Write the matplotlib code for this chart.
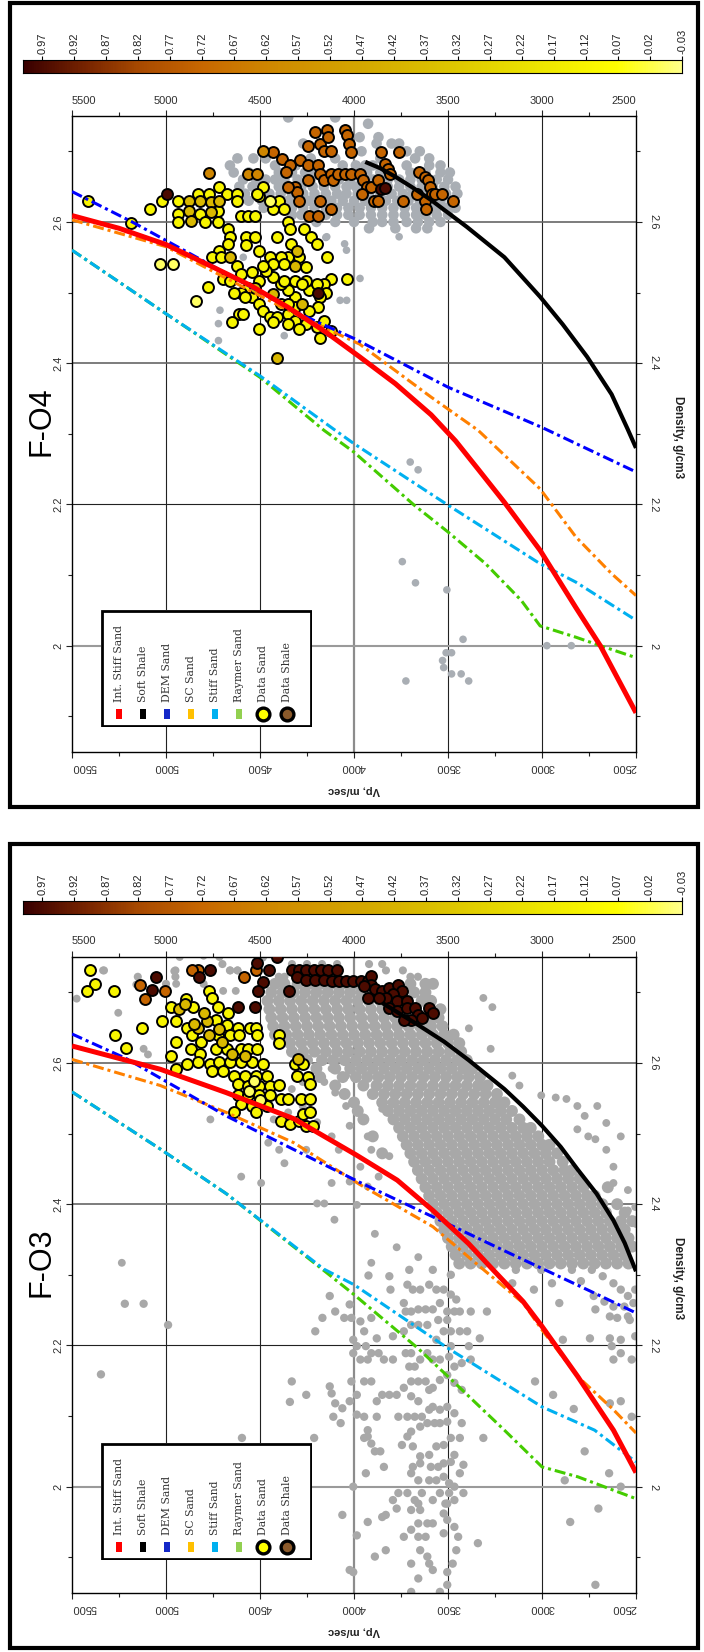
import numpy as np
import matplotlib
matplotlib.use("Agg")
import matplotlib.pyplot as plt
from matplotlib.colors import LinearSegmentedColormap, Normalize
from matplotlib.patches import Rectangle
import matplotlib.transforms as mtransforms

plt.rcParams['font.family'] = ['Liberation Sans', 'DejaVu Sans']

# ---------------------------------------------------------------- axes data
VP_MAJOR = [2500, 3000, 3500, 4000, 4500, 5000, 5500]
VP_MINOR = [2750, 3250, 3750, 4250, 4750, 5250]
RHO_MAJOR = [2.0, 2.2, 2.4, 2.6]
RHO_MINOR = [1.9, 2.1, 2.3, 2.5, 2.7]
VP_LIM = (5500, 2500)
RHO_LIM = (1.85, 2.75)
CB_TICKS = [0.97, 0.92, 0.87, 0.82, 0.77, 0.72, 0.67, 0.62, 0.57, 0.52, 0.47,
            0.42, 0.37, 0.32, 0.27, 0.22, 0.17, 0.12, 0.07, 0.02, -0.03]
CB_RANGE = (1.0, -0.03)
LEGEND_LABELS = ["Int. Stiff Sand", "Soft Shale", "DEM Sand", "SC Sand",
                 "Stiff Sand", "Raymer Sand", "Data Sand", "Data Shale"]
LEGEND_COLORS = ["#ff0000", "#000000", "#1428c8", "#ffc000",
                 "#00b0f0", "#92d050", "#ffff00", "#8b5a2b"]

# ---------------------------------------------------------------- F-O4 curves
o4_red_vp = [5500, 5250, 5000, 4750, 4550, 4350, 4150, 3970, 3780, 3590, 3460, 3340, 3200, 3010, 2820, 2690, 2500]
o4_red_rho = [2.609, 2.591, 2.568, 2.536, 2.510, 2.479, 2.444, 2.409, 2.371, 2.327, 2.290, 2.250, 2.203, 2.135, 2.054, 2.000, 1.905]
o4_black_vp = [3940, 3860, 3780, 3690, 3590, 3400, 3200, 3010, 2890, 2760, 2630, 2545, 2500]
o4_black_rho = [2.685, 2.676, 2.664, 2.649, 2.631, 2.593, 2.550, 2.494, 2.455, 2.409, 2.356, 2.307, 2.280]
o4_blue_vp = [5500, 5180, 4275, 4000, 3500, 3000, 2500]
o4_blue_rho = [2.643, 2.600, 2.468, 2.435, 2.366, 2.309, 2.246]
o4_orange_vp = [5500, 5000, 4750, 4300, 3970, 3590, 3340, 3010, 2820, 2630, 2500]
o4_orange_rho = [2.603, 2.565, 2.530, 2.468, 2.427, 2.352, 2.305, 2.222, 2.154, 2.102, 2.071]
o4_cyan_vp = [5500, 5000, 4500, 4100, 4000, 3500, 3010, 2820, 2500]
o4_cyan_rho = [2.560, 2.470, 2.382, 2.305, 2.286, 2.199, 2.116, 2.090, 2.036]
o4_green_vp = [5500, 5000, 4500, 4160, 4000, 3680, 3500, 3300, 3110, 3010, 2820, 2690, 2500]
o4_green_rho = [2.560, 2.470, 2.380, 2.305, 2.274, 2.199, 2.161, 2.116, 2.064, 2.028, 2.012, 2.000, 1.983]

# ---------------------------------------------------------------- F-O3 curves
o3_red_vp = [5500, 5030, 4680, 4320, 3990, 3770, 3580, 3390, 3260, 3100, 3000, 2810, 2620, 2500]
o3_red_rho = [2.624, 2.591, 2.558, 2.521, 2.470, 2.434, 2.391, 2.344, 2.307, 2.262, 2.227, 2.156, 2.080, 2.020]
o3_black_vp = [3850, 3660, 3520, 3390, 3200, 3100, 3000, 2900, 2810, 2710, 2620, 2560, 2500]
o3_black_rho = [2.685, 2.654, 2.630, 2.604, 2.563, 2.538, 2.511, 2.481, 2.449, 2.415, 2.377, 2.345, 2.305]
o3_blue_vp = [5500, 5210, 4680, 3970, 3500, 3200, 3000, 2720, 2500]
o3_blue_rho = [2.641, 2.606, 2.525, 2.431, 2.372, 2.334, 2.309, 2.274, 2.246]
o3_orange_vp = [5500, 5030, 4680, 4320, 3970, 3580, 3390, 3100, 3000, 2810, 2620, 2500]
o3_orange_rho = [2.605, 2.568, 2.530, 2.487, 2.428, 2.368, 2.325, 2.260, 2.222, 2.156, 2.109, 2.076]
o3_cyan_vp = [5500, 5030, 4680, 4160, 4000, 3500, 3000, 2720, 2500]
o3_cyan_rho = [2.559, 2.478, 2.415, 2.308, 2.286, 2.196, 2.113, 2.080, 2.035]
o3_green_vp = [5500, 5030, 4680, 4160, 4000, 3660, 3500, 3200, 3000, 2810, 2500]
o3_green_rho = [2.559, 2.478, 2.415, 2.306, 2.272, 2.196, 2.156, 2.080, 2.028, 2.014, 1.983]

# ---------------------------------------------------------------- F-O4 points
o4_grey_rows = [
    (2.748, [4350, 4100]),
    (2.739, [3925]),
    (2.720, [3970, 3870]),
    (2.711, [4270, 3880, 3800, 3760]),
    (2.700, [4160, 3960, 3720, 3650]),
    (2.690, [4620, 4535, 4470, 4230, 4100, 3860, 3675, 3600]),
    (2.680, [4660, 4420, 4310, 4060, 3990, 3940, 3900, 3720, 3600, 3540]),
    (2.670, [4640, 4560, 4400, 4330, 4260, 4210, 4000, 3930, 3860, 3700, 3620, 3540, 3490]),
    (2.660, [4590, 4520, 4470, 4420, 4370, 4300, 4230, 4150, 4080, 4020, 3960, 3900, 3820, 3760, 3700, 3640, 3560, 3500]),
    (2.650, [4610, 4540, 4480, 4400, 4350, 4280, 4220, 4160, 4100, 4040, 3990, 3940, 3880, 3820, 3760, 3700, 3640, 3580, 3520, 3460]),
    (2.640, [4580, 4520, 4450, 4390, 4330, 4270, 4210, 4150, 4090, 4040, 3980, 3920, 3860, 3800, 3740, 3690, 3620, 3560, 3510, 3450]),
    (2.630, [4560, 4490, 4430, 4350, 4290, 4240, 4180, 4120, 4060, 4000, 3940, 3880, 3830, 3770, 3710, 3650, 3590, 3540, 3480]),
    (2.620, [4480, 4400, 4330, 4270, 4210, 4150, 4090, 4030, 3970, 3910, 3850, 3790, 3730, 3670, 3610, 3560, 3510, 3460]),
    (2.610, [4330, 4280, 4150, 4090, 4030, 3970, 3910, 3850, 3790, 3730, 3670, 3620, 3560, 3500]),
    (2.600, [4200, 4100, 4000, 3900, 3850, 3790, 3720, 3660, 3600, 3540]),
    (2.591, [3920, 3780, 3670, 3610]),
]
o4_grey_scatter = [
    (4145, 2.579), (3760, 2.579), (4050, 2.569), (4040, 2.560),
    (4589, 2.550), (3968, 2.520), (4074, 2.489), (4039, 2.489), (4713, 2.475),
    (4721, 2.456), (4721, 2.432), (4371, 2.439), (4150, 2.578),
    (3701, 2.260), (3659, 2.249), (3743, 2.119), (3673, 2.089), (3506, 2.079),
    (3420, 2.009), (3510, 1.990), (3481, 1.990), (3529, 1.979), (3523, 1.969),
    (3481, 1.960), (3430, 1.960), (3390, 1.950), (3724, 1.950), (2974, 2.000),
    (2844, 2.000),
]
o4_sand_bright = [
    (5414, 2.629), (5184, 2.599), (5083, 2.619), (5022, 2.630), (4936, 2.629), (4936, 2.611),
    (4830, 2.640), (4821, 2.611), (4773, 2.640), (4716, 2.649), (4725, 2.616), (4725, 2.600),
    (4677, 2.640), (4620, 2.640), (4620, 2.630), (4936, 2.600), (4792, 2.600), (4601, 2.609),
    (4563, 2.609), (4524, 2.609), (4668, 2.590), (4658, 2.578), (4668, 2.569), (4716, 2.559),
    (4754, 2.550), (4706, 2.550), (4572, 2.578), (4524, 2.578), (4572, 2.567), (4620, 2.538),
    (4601, 2.526), (4505, 2.559), (4448, 2.550), (4410, 2.578), (4352, 2.600), (4343, 2.590),
    (4266, 2.590), (4228, 2.578), (4199, 2.569), (4333, 2.569), (4295, 2.550), (4352, 2.550),
    (4390, 2.550), (4429, 2.541), (4371, 2.541), (4257, 2.536), (4142, 2.550), (4037, 2.519),
    (4123, 2.519), (4161, 2.512), (4151, 2.500), (4180, 2.493), (4190, 2.479), (4237, 2.474),
    (4314, 2.493), (4352, 2.503), (4390, 2.512), (4429, 2.522), (4467, 2.531), (4486, 2.538),
    (4543, 2.529), (4505, 2.517), (4563, 2.507), (4601, 2.500), (4639, 2.499), (4543, 2.493),
    (4505, 2.484), (4486, 2.474), (4448, 2.465), (4410, 2.465), (4352, 2.470), (4314, 2.460),
    (4257, 2.455), (4199, 2.451), (4180, 2.436), (4123, 2.446), (4161, 2.460), (4295, 2.448),
    (4352, 2.455), (4429, 2.458), (4505, 2.448), (4610, 2.470), (4649, 2.459), (4591, 2.469),
    (4582, 2.493), (4777, 2.508), (4697, 2.519), (4658, 2.517), (4390, 2.484), (4314, 2.479),
    (4237, 2.503), (4257, 2.517), (4314, 2.517), (4371, 2.517), (4352, 2.484), (4276, 2.512),
    (4199, 2.512), (4429, 2.619), (4400, 2.630), (4371, 2.619), (4505, 2.637), (4486, 2.649),
    (4515, 2.640),
]
o4_sand_gold = [
    (4878, 2.630), (4878, 2.616), (4821, 2.629), (4763, 2.628), (4763, 2.614), (4716, 2.630),
    (4869, 2.602), (4658, 2.550), (4304, 2.559), (4314, 2.538), (4276, 2.484), (4524, 2.507),
    (4429, 2.498), (4410, 2.408),
]
o4_sand_pale = [(4448, 2.630), (5031, 2.540), (4964, 2.540), (4840, 2.488)]
o4_shale_orange = [
    (4433, 2.699), (4381, 2.689), (4343, 2.680), (4362, 2.671), (4285, 2.688), (4247, 2.708),
    (4247, 2.680), (4209, 2.727), (4180, 2.711), (4142, 2.730), (4138, 2.720), (4161, 2.701),
    (4123, 2.701), (4046, 2.730), (4037, 2.723), (4027, 2.711), (4017, 2.699), (4190, 2.680),
    (4180, 2.668), (4161, 2.659), (4123, 2.668), (4113, 2.659), (4084, 2.668), (4046, 2.668),
    (4017, 2.668), (3970, 2.668), (3950, 2.659), (3931, 2.649), (3960, 2.640), (3912, 2.649),
    (3874, 2.659), (3893, 2.630), (3874, 2.630), (3855, 2.699), (3836, 2.682), (3817, 2.675),
    (3807, 2.668), (3759, 2.699), (3740, 2.630), (3654, 2.671), (3625, 2.663), (3606, 2.659),
    (3597, 2.649), (3587, 2.640), (3568, 2.640), (3530, 2.640), (3472, 2.630), (3625, 2.630),
    (3616, 2.619), (3664, 2.640), (4314, 2.649), (4304, 2.642), (4295, 2.630), (4247, 2.659),
    (4237, 2.609), (4190, 2.609), (4180, 2.630), (4123, 2.619), (4352, 2.649),
]
o4_shale_light = [(4769, 2.669), (4563, 2.668), (4515, 2.668), (4486, 2.700)]
o4_dark = [(4993, 2.640), (4190, 2.499), (3855, 2.647), (3836, 2.648)]

# ---------------------------------------------------------------- F-O3 points
o3_grey_rows = [
    (2.712, [4420, 4370, 4300, 4240, 4180, 4120, 4060, 3990, 3700, 3620, 3580]),
    (2.700, [4440, 4380, 4320, 4260, 4200, 4140, 4080, 4020, 3960, 3900, 3680, 3620]),
    (2.688, [4460, 4400, 4340, 4280, 4220, 4160, 4100, 4040, 3980, 3920, 3860, 3640, 3590]),
    (2.676, [4450, 4390, 4330, 4270, 4210, 4150, 4090, 4030, 3970, 3910, 3850, 3600, 3540]),
    (2.664, [4440, 4380, 4320, 4260, 4200, 4140, 4080, 4020, 3960, 3900, 3840, 3780, 3600, 3550]),
    (2.652, [4430, 4370, 4310, 4250, 4190, 4130, 4070, 4010, 3950, 3890, 3830, 3770, 3710, 3650, 3590, 3530]),
    (2.640, [4420, 4360, 4300, 4240, 4180, 4120, 4060, 4000, 3940, 3880, 3820, 3760, 3700, 3640, 3580, 3520, 3470]),
    (2.628, [4400, 4340, 4280, 4220, 4160, 4100, 4040, 3980, 3920, 3860, 3800, 3740, 3680, 3620, 3560, 3500, 3440]),
    (2.616, [4330, 4270, 4210, 4150, 4090, 4030, 3970, 3910, 3850, 3790, 3730, 3670, 3610, 3550, 3490, 3430]),
    (2.604, [4250, 4170, 4110, 4050, 3990, 3930, 3870, 3810, 3750, 3690, 3630, 3570, 3510, 3450, 3400]),
    (2.592, [4200, 4100, 4020, 3960, 3900, 3840, 3780, 3720, 3660, 3600, 3540, 3480, 3420, 3370]),
    (2.580, [4180, 4060, 3990, 3930, 3870, 3810, 3750, 3690, 3630, 3570, 3510, 3450, 3390, 3330]),
    (2.568, [4100, 3950, 3880, 3820, 3760, 3700, 3640, 3580, 3520, 3460, 3400, 3340, 3290]),
    (2.556, [4050, 3900, 3840, 3780, 3720, 3660, 3600, 3540, 3480, 3420, 3360, 3300, 3240]),
    (2.544, [4000, 3850, 3790, 3730, 3670, 3610, 3550, 3490, 3430, 3370, 3310, 3250, 3200]),
    (2.532, [3980, 3820, 3760, 3700, 3640, 3580, 3520, 3460, 3400, 3340, 3280, 3220, 3160]),
    (2.520, [3950, 3790, 3730, 3670, 3610, 3550, 3490, 3430, 3370, 3310, 3250, 3190, 3120]),
    (2.508, [3760, 3700, 3640, 3580, 3520, 3460, 3400, 3340, 3280, 3220, 3160, 3100, 3060]),
    (2.496, [3900, 3740, 3680, 3620, 3560, 3500, 3440, 3380, 3320, 3260, 3200, 3140, 3080, 3020]),
    (2.484, [3720, 3660, 3600, 3540, 3480, 3420, 3360, 3300, 3240, 3180, 3120, 3060, 3000, 2960]),
    (2.472, [3850, 3700, 3640, 3580, 3520, 3460, 3400, 3340, 3280, 3220, 3160, 3100, 3040, 2980, 2920]),
    (2.460, [3680, 3620, 3560, 3500, 3440, 3380, 3320, 3260, 3200, 3140, 3080, 3020, 2960, 2890]),
    (2.448, [3660, 3600, 3540, 3480, 3420, 3360, 3300, 3240, 3180, 3120, 3060, 3000, 2940, 2880, 2840]),
    (2.436, [3640, 3580, 3520, 3460, 3400, 3340, 3280, 3220, 3160, 3100, 3040, 2980, 2920, 2860, 2800]),
    (2.424, [3620, 3560, 3500, 3440, 3380, 3320, 3260, 3200, 3140, 3080, 3020, 2960, 2900, 2840, 2780, 2650]),
    (2.412, [3600, 3540, 3480, 3420, 3360, 3300, 3240, 3180, 3120, 3060, 3000, 2940, 2880, 2820, 2760, 2720]),
    (2.400, [3580, 3520, 3460, 3400, 3340, 3280, 3220, 3160, 3100, 3040, 2980, 2920, 2860, 2800, 2740, 2680, 2600]),
    (2.388, [3560, 3500, 3440, 3380, 3320, 3260, 3200, 3140, 3080, 3020, 2960, 2900, 2840, 2780, 2720, 2660, 2560]),
    (2.376, [3540, 3480, 3420, 3360, 3300, 3240, 3180, 3120, 3060, 3000, 2940, 2880, 2820, 2760, 2700, 2640, 2580, 2520]),
    (2.364, [3520, 3460, 3400, 3340, 3280, 3220, 3160, 3100, 3040, 2980, 2920, 2860, 2800, 2740, 2680, 2620, 2560]),
    (2.352, [3500, 3440, 3380, 3320, 3260, 3200, 3140, 3080, 3020, 2960, 2900, 2840, 2780, 2720, 2660, 2600, 2540]),
    (2.340, [3480, 3420, 3360, 3300, 3240, 3180, 3120, 3060, 3000, 2940, 2880, 2820, 2760, 2700, 2640, 2580, 2520]),
    (2.328, [3460, 3400, 3340, 3280, 3220, 3160, 3100, 3040, 2980, 2920, 2860, 2800, 2740, 2680, 2620, 2560]),
    (2.316, [3440, 3380, 3320, 3260, 3200, 3140, 3080, 3020, 2960, 2900, 2840, 2780, 2720, 2660, 2600, 2540]),
]
o3_grey_edge_rows = [
    (2.752, [4930, 4800, 4720, 4480, 4390]),
    (2.740, [4700, 4330, 4250, 4170, 4090, 3920, 3850]),
    (2.731, [5330, 4950, 4660, 4620, 3830, 3740]),
    (2.722, [5150, 4950, 4400, 4370, 3700, 3660]),
    (2.712, [5000, 4800]),
]
o3_grey_upper_scatter = [
    (5475, 2.691), (5335, 2.731), (5254, 2.671), (5119, 2.620), (5096, 2.612), (5158, 2.711),
    (4956, 2.730), (4946, 2.712), (4696, 2.702), (4629, 2.702), (4927, 2.750), (4802, 2.754),
    (4716, 2.750), (4658, 2.731), (4619, 2.731), (4485, 2.749), (5235, 2.317), (4764, 2.520),
    (4600, 2.439), (4494, 2.430), (4398, 2.477), (4196, 2.401), (4158, 2.401), (4104, 2.378),
    (3985, 2.399), (4119, 2.430), (4023, 2.432), (3927, 2.425), (3889, 2.358), (3773, 2.339),
    (3908, 2.317), (3658, 2.325),
    (4158, 2.573), (4100, 2.558), (4042, 2.539), (3985, 2.530), (4023, 2.511), (3927, 2.496),
    (3908, 2.477), (3812, 2.468), (3850, 2.535), (4350, 2.530), (4273, 2.539), (4427, 2.520),
    (4456, 2.487), (4370, 2.458), (4254, 2.477), (4081, 2.477), (3966, 2.453), (3869, 2.439),
    (4119, 2.496), (4196, 2.516), (4331, 2.563), (4273, 2.573), (4119, 2.592), (4042, 2.582),
    (3312, 2.692), (3264, 2.679), (3389, 2.649), (3273, 2.620), (3004, 2.554), (2927, 2.551),
    (2870, 2.549), (2812, 2.539), (2706, 2.539), (2773, 2.525), (2658, 2.477), (2716, 2.492),
    (2620, 2.453), (2543, 2.420), (2504, 2.396), (3158, 2.582), (3120, 2.568), (2754, 2.496),
    (2658, 2.515), (2812, 2.506), (2581, 2.496), (2620, 2.430), (2543, 2.391), (2500, 2.372),
]
o3_grey_lower = [
    (3923, 2.299), (3812, 2.298), (3706, 2.307), (3581, 2.307), (3485, 2.300), (3716, 2.286),
    (3687, 2.279), (3648, 2.279), (3600, 2.286), (3562, 2.279), (3523, 2.279), (3485, 2.272),
    (3456, 2.265), (3543, 2.260), (3581, 2.251), (3619, 2.251), (3658, 2.251), (3696, 2.248),
    (3725, 2.248), (3504, 2.248), (3466, 2.248), (3437, 2.248), (3379, 2.248), (3293, 2.248),
    (3552, 2.236), (3504, 2.236), (3523, 2.220), (3485, 2.220), (3437, 2.220), (3398, 2.220),
    (3331, 2.210), (3610, 2.229), (3658, 2.229), (3696, 2.229), (3735, 2.220), (3793, 2.213),
    (3879, 2.210), (3946, 2.220), (3966, 2.234), (3908, 2.239), (4014, 2.239), (4052, 2.239),
    (4023, 2.258), (4100, 2.248), (4129, 2.270), (4168, 2.239), (4206, 2.220), (3806, 2.279),
    (3735, 2.260),
    (2947, 2.288), (2908, 2.260), (2735, 2.307), (2677, 2.298), (2620, 2.288), (2581, 2.279),
    (2543, 2.270), (2504, 2.279), (2716, 2.251), (2639, 2.241), (2600, 2.239), (2543, 2.241),
    (2745, 2.210), (2639, 2.210), (2581, 2.208), (2504, 2.213), (2533, 2.236), (2629, 2.199),
    (2581, 2.189), (2620, 2.180), (2523, 2.180), (3043, 2.279), (3158, 2.288), (3139, 2.307),
    (3004, 2.307), (2841, 2.307), (2793, 2.291), (2725, 2.270), (2668, 2.262), (2620, 2.255),
    (2562, 2.255), (2514, 2.260), (2889, 2.208),
    (4004, 2.208), (3985, 2.199), (4004, 2.189), (3966, 2.180), (3927, 2.180), (3908, 2.189),
    (3937, 2.199), (3869, 2.189), (3841, 2.180), (3793, 2.180), (3725, 2.189), (3696, 2.189),
    (3706, 2.170), (3677, 2.170), (3648, 2.180), (3610, 2.189), (3581, 2.180), (3543, 2.180),
    (3494, 2.184), (3466, 2.170), (3427, 2.175), (3379, 2.180), (3389, 2.199), (3485, 2.199),
    (3562, 2.208), (3543, 2.151), (3504, 2.158), (3466, 2.147), (3427, 2.137), (3658, 2.149),
    (3619, 2.149), (3581, 2.140), (3696, 2.149), (3735, 2.140), (3773, 2.130), (3696, 2.128),
    (3658, 2.121), (3600, 2.137), (3600, 2.109), (3639, 2.099), (3677, 2.099), (3716, 2.099),
    (3764, 2.099), (3581, 2.113), (3543, 2.109), (3504, 2.113), (3466, 2.104), (3427, 2.090),
    (3504, 2.092), (3543, 2.090), (3571, 2.090), (3610, 2.090), (3648, 2.085), (3696, 2.078),
    (3716, 2.071), (3745, 2.059), (3687, 2.057), (3648, 2.043), (3600, 2.045), (3562, 2.057),
    (3523, 2.059), (3485, 2.069), (3437, 2.069), (3466, 2.045), (3485, 2.035), (3523, 2.033),
    (3552, 2.028), (3591, 2.028), (3648, 2.033), (3687, 2.028), (3696, 2.019), (3658, 2.009),
    (3600, 2.009), (3562, 2.009), (3523, 2.014), (3494, 2.005), (3466, 2.000), (3418, 2.031),
    (3437, 2.019), (3418, 1.991), (3466, 1.981), (3504, 1.976), (3523, 1.962), (3504, 1.953),
    (3466, 1.943), (3523, 1.934), (3581, 1.948), (3610, 1.948), (3658, 1.948), (3696, 1.939),
    (3735, 1.929), (3658, 1.929), (3619, 1.929), (3648, 1.910), (3610, 1.901), (3600, 1.891),
    (3696, 1.891), (3581, 1.882), (3658, 1.870), (3504, 1.879), (3475, 1.891), (3456, 1.910),
    (3446, 1.929), (3504, 1.861), (3543, 1.851), (3696, 1.851), (3514, 1.976), (3494, 1.991),
    (3543, 1.991), (3581, 1.981), (3639, 1.991), (3677, 1.981), (3716, 1.991), (3764, 1.991),
    (3793, 1.981), (3773, 1.969), (3696, 1.967), (3648, 1.967), (3658, 1.976), (3831, 1.960),
    (3850, 1.957), (3889, 1.901), (3831, 1.910), (3927, 1.950), (3985, 1.931), (4062, 1.960),
    (4023, 1.882), (4004, 1.879), (3341, 1.920), (3312, 2.069),
    (4129, 2.142), (4119, 2.132), (4100, 2.118), (4110, 2.099), (4071, 2.090), (4062, 2.111),
    (4023, 2.121), (3985, 2.102), (3946, 2.099), (3927, 2.080), (3879, 2.099), (3927, 2.071),
    (3946, 2.069), (3908, 2.061), (3889, 2.050), (3860, 2.050), (3841, 2.028), (3937, 2.019),
    (4004, 2.000), (4014, 2.149), (3985, 2.130), (3946, 2.149), (3908, 2.149), (3879, 2.121),
    (3850, 2.130), (3812, 2.130),
    (5219, 2.259), (5119, 2.259), (4989, 2.229), (5346, 2.159), (4596, 2.069), (4331, 2.149),
    (4254, 2.130), (4341, 2.120), (4212, 2.069),
    (3037, 2.149), (2941, 2.130), (2831, 2.110), (2773, 2.050), (2879, 2.009), (2850, 1.950),
    (2700, 1.969), (2643, 2.019), (2581, 2.000), (2716, 1.861), (2581, 2.121), (2523, 2.099),
    (2639, 2.118),
]
o3_sand_bright = [
    (5402, 2.731), (5377, 2.712), (5421, 2.702), (5277, 2.702), (5273, 2.639), (5215, 2.621),
    (5129, 2.650), (5023, 2.660), (4975, 2.679), (4892, 2.691), (4854, 2.679), (4773, 2.702),
    (4754, 2.692), (4725, 2.679), (4668, 2.671), (4946, 2.660), (4889, 2.649), (4735, 2.661),
    (4677, 2.654), (4619, 2.649), (4552, 2.649), (4523, 2.649), (4514, 2.639), (4398, 2.639),
    (4398, 2.628), (4946, 2.630), (4862, 2.639), (4812, 2.630), (4725, 2.639), (4658, 2.639),
    (4610, 2.639), (4869, 2.620), (4821, 2.613), (4735, 2.620), (4677, 2.620), (4600, 2.620),
    (4562, 2.620), (4514, 2.620), (4975, 2.610), (4889, 2.599), (4831, 2.601), (4764, 2.599),
    (4716, 2.601), (4658, 2.601), (4600, 2.601), (4542, 2.601), (4485, 2.599), (4946, 2.591),
    (4754, 2.588), (4696, 2.588), (4639, 2.582), (4581, 2.582), (4523, 2.582), (4465, 2.582),
    (4619, 2.570), (4562, 2.568), (4504, 2.568), (4446, 2.568), (4398, 2.569), (4619, 2.554),
    (4562, 2.554), (4504, 2.554), (4446, 2.554), (4389, 2.549), (4350, 2.549), (4283, 2.549),
    (4235, 2.549), (4600, 2.542), (4542, 2.539), (4465, 2.539), (4639, 2.530), (4523, 2.530),
    (4389, 2.518), (4341, 2.513), (4293, 2.518), (4273, 2.527), (4235, 2.530), (4254, 2.511),
    (4216, 2.511), (4312, 2.599), (4273, 2.599), (4302, 2.582), (4244, 2.580), (4235, 2.570),
]
o3_sand_gold = [
    (4930, 2.676), (4900, 2.683), (4831, 2.649), (4783, 2.659), (4773, 2.639), (4800, 2.670),
    (4720, 2.648), (4700, 2.630), (4650, 2.612), (4580, 2.610), (4300, 2.605), (4850, 2.655),
]
o3_sand_pale = [(4560, 2.560), (4500, 2.548), (4530, 2.575)]
o3_shale_orange = [
    (4831, 2.731), (4860, 2.731), (5110, 2.691), (5139, 2.711), (5004, 2.702), (4585, 2.722),
    (4519, 2.731),
]
o3_shale_dark = [
    (4331, 2.731), (4292, 2.731), (4254, 2.731), (4215, 2.731), (4177, 2.731), (4139, 2.731),
    (4090, 2.731), (4302, 2.721), (4254, 2.718), (4206, 2.718), (4158, 2.718), (4119, 2.716),
    (4081, 2.716), (4042, 2.716), (4004, 2.716), (3965, 2.716), (3927, 2.716), (3908, 2.723),
    (3908, 2.711), (3946, 2.709), (3889, 2.704), (3850, 2.702), (3812, 2.706), (3764, 2.711),
    (3744, 2.702), (3792, 2.697), (3831, 2.692), (3869, 2.692), (3927, 2.692), (3773, 2.687),
    (3716, 2.687), (3812, 2.678), (3773, 2.673), (3716, 2.678), (3677, 2.678), (3658, 2.668),
    (3600, 2.678), (3581, 2.671), (3639, 2.663), (3696, 2.661), (3735, 2.661), (4345, 2.702),
    (4514, 2.742), (4408, 2.750), (4450, 2.731), (4485, 2.714), (4508, 2.702), (4527, 2.679),
    (4615, 2.679), (4764, 2.731), (5052, 2.722), (5077, 2.703), (4822, 2.721),
]

# color values (position on the colour bar) for each point group
V_SAND_BRIGHT = 0.12
V_SAND_GOLD = 0.40
V_SAND_PALE = 0.00
V_SHALE_ORANGE = 0.73
V_SHALE_LIGHT = 0.62
V_SHALE_DARK = 0.97

# ---------------------------------------------------------------- styling
cmap = LinearSegmentedColormap.from_list("cb", [
    (0.000, "#ffff88"), (0.097, "#ffff00"), (0.223, "#ece400"), (0.369, "#dcc200"),
    (0.485, "#d4a800"), (0.612, "#d08c00"), (0.728, "#c86800"), (0.825, "#a84a00"),
    (0.903, "#7a2600"), (1.000, "#3a0000")])
norm = Normalize(vmin=-0.03, vmax=1.0)

W, H = 704, 1652
fig = plt.figure(figsize=(W / 100, H / 100), dpi=100)


def px(l, t, w, h):
    return [l / W, 1 - (t + h) / H, w / W, h / H]


def pts(lst):
    a = np.array(lst, dtype=float)
    return a[:, 0], a[:, 1]


def rows_to_xy(rows):
    vp = [v for r, vs in rows for v in vs]
    rh = [r for r, vs in rows for v in vs]
    return np.array(vp, float), np.array(rh, float)


DASH = (0, (3.6, 1.3, 1.0, 1.3))


def draw_panel(dy, leg_top, title, curves, grey_sets, groups, grey_col):
    # outer frame
    fig.add_artist(Rectangle((10 / W, 1 - (807 + dy) / H), 688 / W, 804 / H,
                             transform=fig.transFigure, fill=False, lw=3.0,
                             ec="black", zorder=20))
    # colour bar
    cax = fig.add_axes(px(23, 60 + dy, 659, 13))
    grad = np.linspace(CB_RANGE[1], CB_RANGE[0], 600)
    cax.imshow(grad[None, :], aspect="auto", cmap=cmap, norm=norm,
               extent=[CB_RANGE[1], CB_RANGE[0], 0, 1], origin="lower")
    cax.set_xlim(CB_RANGE[0], CB_RANGE[1])
    cax.set_ylim(0, 1)
    cax.set_yticks([])
    cax.xaxis.set_ticks_position("top")
    cax.set_xticks(CB_TICKS)
    cax.set_xticklabels([f"{t:.2f}" for t in CB_TICKS], rotation=90,
                        fontsize=8, color="#222222")
    cax.tick_params(axis="x", direction="out", length=3, width=0.8, pad=1)
    for s in cax.spines.values():
        s.set_linewidth(0.8)

    # main axes
    ax = fig.add_axes(px(72, 116 + dy, 564, 635.6))
    ax.set_xlim(*VP_LIM)
    ax.set_ylim(*RHO_LIM)
    ax.set_xticks(VP_MAJOR)
    ax.set_xticks(VP_MINOR, minor=True)
    ax.set_yticks(RHO_MAJOR)
    ax.set_yticks(RHO_MINOR, minor=True)
    ax.tick_params(which="both", direction="out", top=True, right=True,
                   labelbottom=False, labelleft=False, width=0.8, colors="#222222")
    ax.tick_params(which="major", length=4)
    ax.tick_params(which="minor", length=3)
    for s in ax.spines.values():
        s.set_linewidth(1.0)
    for v in VP_MAJOR[1:-1]:
        if v == 4000:
            ax.axvline(v, color="#8c8c8c", lw=1.6, zorder=1)
        else:
            ax.axvline(v, color="#222222", lw=0.8, zorder=1)
    for r in RHO_MAJOR:
        if r == 2.0:
            ax.axhline(r, color="#9a9a9a", lw=1.5, zorder=1)
        elif r in (2.4, 2.6):
            ax.axhline(r, color="#666666", lw=1.2, zorder=1)
        else:
            ax.axhline(r, color="#222222", lw=0.8, zorder=1)

    # grey background data (dense clouds drawn with slightly larger dots)
    for (gx, gy), size in grey_sets:
        ax.scatter(gx, gy, s=size, c=grey_col, edgecolors="none", zorder=2)
    # coloured data
    for lst, val in groups:
        x, y = pts(lst)
        ax.scatter(x, y, s=62, c=[cmap(norm(val))], edgecolors="black",
                   linewidths=1.4, zorder=3)
    # model curves
    for (cx, cy), col, lw, ls in curves:
        ax.plot(cx, cy, color=col, lw=lw, ls=ls, zorder=4, solid_capstyle="butt",
                solid_joinstyle="round")

    # tick labels
    tr_top = mtransforms.offset_copy(ax.get_xaxis_transform(), fig=fig, x=0, y=15.5, units="dots")
    tr_bot = mtransforms.offset_copy(ax.get_xaxis_transform(), fig=fig, x=0, y=-15.5, units="dots")
    for v in VP_MAJOR:
        ha = "left" if v == VP_LIM[0] else ("right" if v == VP_LIM[1] else "center")
        ax.text(v, 1, str(v), transform=tr_top, ha=ha, va="center",
                fontsize=8, color="#303030")
        ax.text(v, 0, str(v), transform=tr_bot, ha=ha, va="center", rotation=180,
                fontsize=8, color="#303030")
    tr_l = mtransforms.offset_copy(ax.get_yaxis_transform(), fig=fig, x=-14, y=0, units="dots")
    tr_r = mtransforms.offset_copy(ax.get_yaxis_transform(), fig=fig, x=17, y=0, units="dots")
    for r in RHO_MAJOR:
        lab = f"{r:g}"
        ax.text(0, r, lab, transform=tr_l, ha="center", va="center", rotation=90,
                fontsize=8, color="#303030")
        ax.text(1, r, lab, transform=tr_r, ha="center", va="center", rotation=270,
                fontsize=8, color="#303030")

    # titles / axis names
    fig.text(42 / W, 1 - (421 + dy) / H, title, rotation=90, ha="center", va="center",
             fontsize=22, color="black")
    fig.text(354 / W, 1 - (790 + dy) / H, "Vp, m/sec", rotation=180, ha="center",
             va="center", fontsize=8, fontweight="bold", color="#222222")
    fig.text(678 / W, 1 - (437 + dy) / H, "Density, g/cm3", rotation=270, ha="center",
             va="center", fontsize=8.5, fontweight="bold", color="#222222")

    # legend
    lax = fig.add_axes(px(101, leg_top, 211, 117))
    lax.set_xlim(0, 211)
    lax.set_ylim(117, 0)
    lax.set_xticks([])
    lax.set_yticks([])
    for s in lax.spines.values():
        s.set_visible(False)
    lax.add_patch(Rectangle((1.3, 1.3), 208.4, 114.4, fill=False, lw=2.0, ec="black"))
    for i, (lab, col) in enumerate(zip(LEGEND_LABELS, LEGEND_COLORS)):
        x = 18 + 24.05 * i
        lax.text(x, 92, lab, rotation=90, ha="center", va="bottom",
                 family=["DejaVu Serif"], fontsize=7.8, color="#333333")
        if i < 6:
            lax.add_patch(Rectangle((x - 3, 99), 6, 10, color=col, lw=0))
        else:
            lax.plot([x], [104], "o", ms=9.2, mfc=col, mec="black", mew=2.4)


o4_curves = [
    ((o4_green_vp, o4_green_rho), "#44cc00", 2.2, DASH),
    ((o4_cyan_vp, o4_cyan_rho), "#00b0f0", 2.2, DASH),
    ((o4_orange_vp, o4_orange_rho), "#ff8000", 2.2, DASH),
    ((o4_blue_vp, o4_blue_rho), "#0000ff", 2.2, DASH),
    ((o4_black_vp, o4_black_rho), "#000000", 3.0, "-"),
    ((o4_red_vp, o4_red_rho), "#ff0000", 3.6, "-"),
]
o3_curves = [
    ((o3_green_vp, o3_green_rho), "#44cc00", 2.2, DASH),
    ((o3_cyan_vp, o3_cyan_rho), "#00b0f0", 2.2, DASH),
    ((o3_orange_vp, o3_orange_rho), "#ff8000", 2.2, DASH),
    ((o3_blue_vp, o3_blue_rho), "#0000ff", 2.2, DASH),
    ((o3_black_vp, o3_black_rho), "#000000", 3.0, "-"),
    ((o3_red_vp, o3_red_rho), "#ff0000", 3.6, "-"),
]

o4_grey = [(rows_to_xy(o4_grey_rows), 58), (pts(o4_grey_scatter), 30)]
o3_grey = [(rows_to_xy(o3_grey_rows), 74), (rows_to_xy(o3_grey_edge_rows), 34),
           (pts(o3_grey_upper_scatter), 32), (pts(o3_grey_lower), 36)]

o4_groups = [(o4_shale_orange, V_SHALE_ORANGE), (o4_shale_light, V_SHALE_LIGHT),
             (o4_sand_bright, V_SAND_BRIGHT), (o4_sand_gold, V_SAND_GOLD),
             (o4_sand_pale, V_SAND_PALE), (o4_dark, V_SHALE_DARK)]
o3_groups = [(o3_shale_orange, V_SHALE_ORANGE), (o3_shale_dark, V_SHALE_DARK),
             (o3_sand_bright, V_SAND_BRIGHT), (o3_sand_gold, V_SAND_GOLD),
             (o3_sand_pale, V_SAND_PALE)]

draw_panel(0, 610, "F-O4", o4_curves, o4_grey, o4_groups, "#a9aeb4")
draw_panel(841, 1443, "F-O3", o3_curves, o3_grey, o3_groups, "#a8a8a8")

fig.savefig("out.png", dpi=100)
